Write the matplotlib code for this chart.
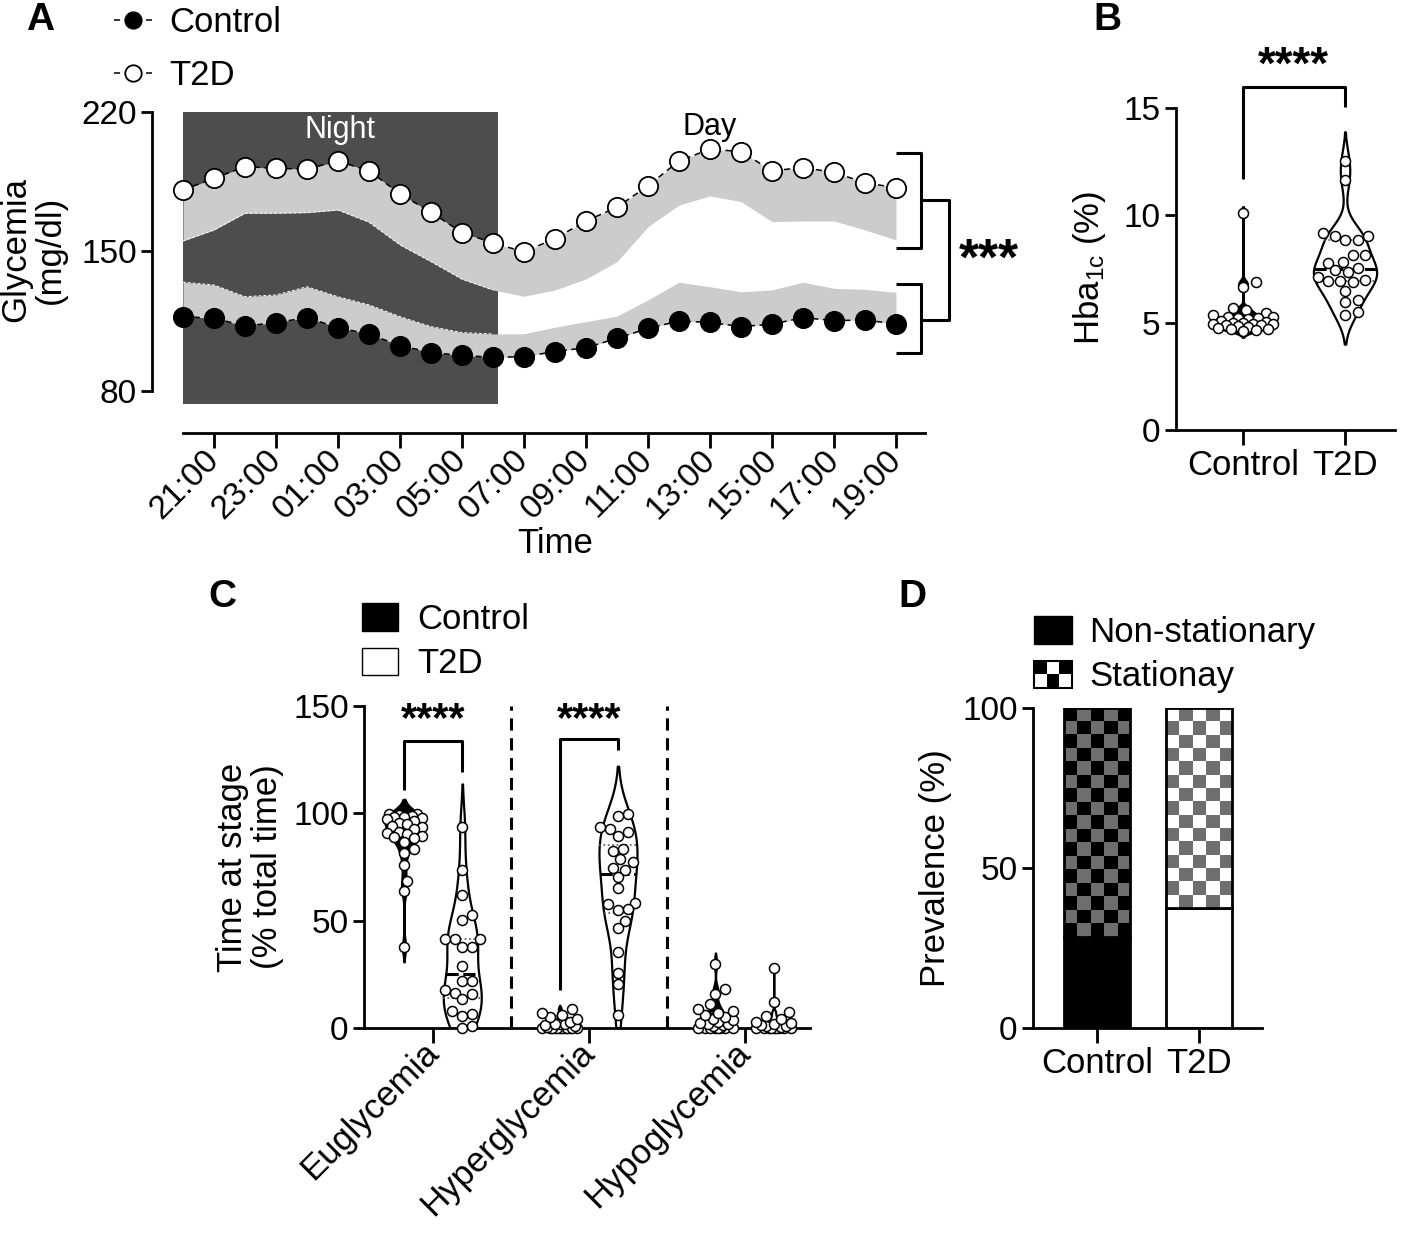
import numpy as np
import matplotlib
matplotlib.use('Agg')
import matplotlib.pyplot as plt
from matplotlib.patches import Rectangle, Patch
from matplotlib.colors import ListedColormap
from matplotlib.legend_handler import HandlerBase

plt.rcParams['font.family'] = ['Liberation Sans', 'DejaVu Sans']
plt.rcParams['mathtext.fontset'] = 'custom'
plt.rcParams['mathtext.rm'] = 'Liberation Sans'
plt.rcParams['mathtext.default'] = 'regular'

# ---------------- data ----------------
# panel A, hourly glycemia (hour 0 = 20:00)
hours = np.arange(24)
time_ticks = [1, 3, 5, 7, 9, 11, 13, 15, 17, 19, 21, 23]
time_labels = ['21:00', '23:00', '01:00', '03:00', '05:00', '07:00',
               '09:00', '11:00', '13:00', '15:00', '17:00', '19:00']
t2d_mean = [180.9, 186.7, 192.6, 191.7, 191.4, 195.4, 190.5, 178.9, 169.7, 159.5, 154.3, 149.8,
            156.5, 165.3, 172.2, 183.0, 195.4, 201.4, 200.1, 190.5, 192.1, 189.7, 184.5, 182.0]
t2d_low = [155.3, 160.8, 169.2, 169.2, 169.5, 170.8, 164.7, 153.3, 144.9, 136.1, 130.7, 127.5,
           130.7, 136.2, 144.9, 162.4, 173.3, 177.9, 175.0, 165.0, 165.3, 165.3, 160.8, 155.8]
ctl_mean = [117.3, 116.5, 112.6, 114.3, 116.8, 111.8, 108.5, 102.8, 99.3, 97.8, 96.9, 97.2,
            99.8, 101.7, 106.4, 111.4, 115.1, 114.4, 112.3, 113.5, 116.8, 115.3, 115.6, 113.6]
ctl_high = [134.6, 133.2, 127.3, 128.2, 132.3, 127.3, 123.2, 117.3, 112.3, 109.3, 108.6, 108.7,
            112.0, 114.8, 117.6, 125.7, 134.6, 132.3, 129.8, 130.7, 134.6, 131.5, 131.0, 129.5]
night_start, night_end = 0.0, 10.15

# panel B, HbA1c (%)
hba1c_ctl = [10.12, 6.88, 6.68, 5.67, 5.59, 5.46, 5.36, 5.25, 5.28, 5.2, 5.2, 5.15, 5.1, 5.05,
             5.0, 5.0, 4.95, 4.95, 4.95, 4.9, 4.9, 4.85, 4.8, 4.75, 4.72, 4.7, 4.65, 4.6]
hba1c_t2d = [12.53, 11.65, 9.05, 8.85, 9.16, 8.85, 9.05, 8.15, 8.15, 7.8, 7.84, 7.53, 7.38, 7.45,
             7.14, 6.99, 6.96, 6.88, 6.96, 6.49, 5.95, 6.06, 5.36, 5.48]
groups = ['Control', 'T2D']

# panel C, time at stage (% total time)
stages = ['Euglycemia', 'Hyperglycemia', 'Hypoglycemia']
eugly_ctl = [99.5, 99.5, 99.0, 98.7, 98.5, 98.1, 97.9, 97.5, 96.5, 95.6, 95.0, 94.0, 93.7, 92.5,
             91.4, 91.0, 90.6, 89.5, 89.0, 88.5, 86.7, 83.6, 81.6, 75.8, 68.5, 63.9, 37.8]
eugly_t2d = [93.7, 73.5, 61.8, 50.5, 52.5, 41.6, 41.6, 41.6, 37.8, 37.8, 28.9, 21.8, 21.8, 17.6,
             15.7, 16.5, 13.4, 6.7, 7.8, 5.4, 0.0, 0.8]
hyper_ctl = [0, 0, 0, 0, 0, 0, 0, 0, 0, 0, 0, 0, 0.5, 1, 1.5, 2, 2, 2, 3, 4, 5, 6, 7, 9]
hyper_t2d = [99.6, 98.7, 92.6, 93.7, 91.4, 89.5, 83.6, 82.5, 78.6, 77.4, 73.5, 74.7, 70.4, 65.4,
             58.0, 57.7, 54.9, 55.6, 49.9, 46.8, 35.4, 25.6, 20.7, 5.9]
hypo_ctl = [0, 0, 0, 0, 0, 0, 0, 0, 1, 1.5, 2, 2, 2.5, 3, 3.5, 4, 5, 6, 7, 8, 9, 11, 16, 18, 30]
hypo_t2d = [0, 0, 0, 0, 0, 0, 0, 0, 0, 0.5, 1, 1, 1.5, 2, 2.5, 3, 4, 5.5, 7.5, 12, 27.8]

# panel D, prevalence (%)
nonstat = [28.3, 37.5]
stat = [100 - v for v in nonstat]

# ---------------- layout helpers ----------------
W, H = 1416, 1237
fig = plt.figure(figsize=(W / 100, H / 100), dpi=100)

def rect(l, t, r, b):
    return [l / W, 1 - b / H, (r - l) / W, (b - t) / H]

def fx(px): return px / W
def fy(py): return 1 - py / H

FS = 25
TK = 24

def style(ax, ybounds=None, xbounds=None):
    for s in ['top', 'right']:
        ax.spines[s].set_visible(False)
    for s in ['left', 'bottom']:
        ax.spines[s].set_linewidth(2.0)
    if ybounds: ax.spines['left'].set_bounds(*ybounds)
    if xbounds: ax.spines['bottom'].set_bounds(*xbounds)
    ax.tick_params(axis='both', width=2.0, length=8, labelsize=TK, pad=3)
    ax.tick_params(axis='x', length=11)
    ax.patch.set_alpha(0)

def violin(ax, xc, vals, half_w, color, lo_clip=None, cut=2.0):
    v = np.asarray(vals, float)
    q1, q3 = np.percentile(v, [25, 75])
    sd = v.std(ddof=1)
    spread = min(sd, (q3 - q1) / 1.34) if q3 > q1 else sd
    bw = 0.9 * spread * len(v) ** -0.2
    lo = v.min() - cut * bw
    if lo_clip is not None: lo = max(lo, lo_clip)
    grid = np.linspace(lo, v.max() + cut * bw, 500)
    dens = np.exp(-0.5 * ((grid[:, None] - v[None, :]) / bw) ** 2).sum(axis=1)
    w = dens / dens.max() * half_w
    ax.fill_betweenx(grid, xc - w, xc + w, facecolor=color, edgecolor='black', lw=1.6, zorder=2)
    med = np.median(v)
    wm = np.interp(med, grid, w)
    ax.plot([xc - wm, xc + wm], [med, med], color='black', lw=2.2, ls=(0, (4, 1.5)), zorder=2.5)
    for q in (q1, q3):
        wq = np.interp(q, grid, w)
        ax.plot([xc - wq, xc + wq], [q, q], color='#555555', lw=1.2, ls=':', zorder=2.5)

def swarm(ax, xc, vals, d, max_w, gap=0.92):
    vals = np.asarray(vals, float)
    pts = ax.transData.transform(np.column_stack([np.full(len(vals), xc), vals]))
    xs = np.zeros(len(vals))
    placed = []
    step = d * 0.25
    for i in np.argsort(vals):
        px, py = pts[i]
        cands = [px]
        k = 1
        while k * step <= max_w:
            cands += [px + k * step, px - k * step]
            k += 1
        best, best_d = px, -1
        for cx in cands:
            md = min([np.hypot(cx - qx, py - qy) for qx, qy in placed] + [1e9])
            if md >= d * gap:
                best = cx
                break
            if md > best_d:
                best, best_d = cx, md
        placed.append((best, py))
        xs[i] = best
    back = ax.transData.inverted().transform(np.column_stack([xs, pts[:, 1]]))
    ax.scatter(back[:, 0], vals, s=52, facecolor='white', edgecolor='black', lw=1.1,
               zorder=4, clip_on=False)

# ---------------- panel A ----------------
axA = fig.add_axes(rect(152, 112, 927, 433))
axA.set_xlim(-1, 24)
axA.set_ylim(58.9, 220)
style(axA, ybounds=(80, 220), xbounds=(0, 23.95))
axA.add_patch(Rectangle((night_start, 73.5), night_end - night_start, 220 - 73.5,
                        facecolor='#4d4d4d', edgecolor='none', zorder=1))
axA.fill_between(hours, t2d_low, t2d_mean, color='#cccccc', lw=0, zorder=2)
axA.fill_between(hours, ctl_mean, ctl_high, color='#cccccc', lw=0, zorder=2)
night = hours <= night_end
axA.plot(hours[night], np.array(t2d_low)[night], color='white', lw=0.7, ls=(0, (3, 2)), zorder=2)
axA.plot(hours[night], np.array(ctl_high)[night], color='white', lw=0.7, ls=(0, (3, 2)), zorder=2)
ln_ctl, = axA.plot(hours, ctl_mean, color='black', lw=1.1, ls=(0, (4, 3)), marker='o', ms=13.9,
                   mfc='black', mec='black', mew=1.3, zorder=3, clip_on=False, label='Control')
ln_t2d, = axA.plot(hours, t2d_mean, color='black', lw=1.1, ls=(0, (4, 3)), marker='o', ms=13.9,
                   mfc='white', mec='black', mew=1.3, zorder=3, clip_on=False, label='T2D')
axA.set_xticks(time_ticks)
axA.set_xticklabels(time_labels, rotation=45, ha='right', va='center', rotation_mode='anchor')
axA.tick_params(axis='x', pad=5)
axA.set_yticks([80, 150, 220])
axA.text((night_start + night_end) / 2, 211, 'Night', color='white', fontsize=22,
         ha='center', va='center', zorder=3)
axA.text(17, 212.5, 'Day', color='black', fontsize=22, ha='center', va='center', zorder=3)
# significance brackets
bk = dict(color='black', lw=2.2, clip_on=False, solid_capstyle='butt')
axA.plot([23.0, 23.8, 23.8, 23.0], [199.4, 199.4, 151.8, 151.8], **bk)
axA.plot([23.0, 23.8, 23.8, 23.0], [133.7, 133.7, 99.1, 99.1], **bk)
axA.plot([23.8, 24.72, 24.72, 23.8], [175.6, 175.6, 115.5, 115.5], **bk)
axA.text(26.0, 145.0, '***', fontsize=37, fontweight='bold', ha='center', va='center')
fig.text(fx(33), fy(250), 'Glycemia\n(mg/dl)', rotation=90, fontsize=FS, ha='center',
         va='center', multialignment='center', linespacing=1.05)
fig.text(fx(555), fy(543), 'Time', fontsize=FS, ha='center', va='center')
fig.legend([ln_ctl, ln_t2d], ['Control', 'T2D'], loc='upper left',
           bbox_to_anchor=(fx(114), fy(6)), frameon=False, fontsize=FS, handlelength=1.1,
           handletextpad=0.5, labelspacing=0.58, borderpad=0, borderaxespad=0, markerscale=0.85)

# ---------------- panel B ----------------
axB = fig.add_axes(rect(1176, 86.5, 1395, 430))
axB.set_xlim(-0.657, 1.49)
axB.set_ylim(0, 16)
style(axB, ybounds=(0, 15))
axB.set_yticks([0, 5, 10, 15])
axB.set_xticks([0, 1])
axB.set_xticklabels(groups, fontsize=FS)
violin(axB, 0, hba1c_ctl, 0.32, 'black')
violin(axB, 1, hba1c_t2d, 0.31, 'white')
swarm(axB, 0, hba1c_ctl, 10, 30, gap=1.15)
swarm(axB, 1, hba1c_t2d, 10, 30, gap=1.05)
axB.plot([0, 0, 1, 1], [11.7, 16.0, 16.0, 15.06], **bk)
axB.text(0.49, 16.9, '****', fontsize=33, fontweight='bold', ha='center', va='center')
fig.text(fx(1090), fy(268), 'Hba$_{1c}$ (%)', rotation=90, fontsize=FS, ha='center', va='center')

# ---------------- panel C ----------------
axC = fig.add_axes(rect(364, 706, 810, 1028))
axC.set_xlim(-0.444, 2.42)
axC.set_ylim(0, 150)
style(axC, ybounds=(0, 150))
axC.set_yticks([0, 50, 100, 150])
axC.set_xticks([0, 1, 2])
axC.set_xticklabels(stages, rotation=45, ha='right', va='center', rotation_mode='anchor',
                    fontsize=FS)
off = 0.187
stage_data = [(eugly_ctl, eugly_t2d), (hyper_ctl, hyper_t2d), (hypo_ctl, hypo_t2d)]
for g, (c_vals, t_vals) in enumerate(stage_data):
    violin(axC, g - off, c_vals, 0.122, 'black', lo_clip=0)
    violin(axC, g + off, t_vals, 0.122, 'white', lo_clip=0)
    swarm(axC, g - off, c_vals, 10, 18, gap=1.0)
    swarm(axC, g + off, t_vals, 10, 18, gap=1.0)
for xs in (0.5, 1.5):
    axC.plot([xs, xs], [0, 150], color='black', lw=2.2, ls=(0, (4, 2.5)), zorder=1)
axC.plot([-off, -off, off, off], [110.8, 133.7, 133.7, 119.3], **bk)
axC.plot([1 - off, 1 - off, 1 + off, 1 + off], [17.6, 134.6, 134.6, 129.4], **bk)
axC.text(0, 143.5, '****', fontsize=30, fontweight='bold', ha='center', va='center')
axC.text(1, 143.5, '****', fontsize=30, fontweight='bold', ha='center', va='center')
fig.text(fx(250), fy(867), 'Time at stage\n(% total time)', rotation=90, fontsize=FS,
         ha='center', va='center', multialignment='center', linespacing=1.05)
fig.legend([Patch(facecolor='black', edgecolor='black'), Patch(facecolor='white', edgecolor='black')],
           groups, loc='upper left', bbox_to_anchor=(fx(362), fy(603)), frameon=False,
           fontsize=FS, handlelength=1.05, handleheight=0.85, handletextpad=0.55,
           labelspacing=0.33, borderpad=0, borderaxespad=0)

# ---------------- panel D ----------------
axD = fig.add_axes(rect(1033, 708, 1262, 1028))
axD.set_xlim(-0.627, 1.62)
axD.set_ylim(0, 100)
style(axD, ybounds=(0, 100))
axD.set_yticks([0, 50, 100])
axD.set_xticks([0, 1])
axD.set_xticklabels(groups, fontsize=FS)
bar_w = 0.65
base_cols = ['black', 'white']
sq_x = bar_w / 5
p0 = axD.transData.transform((0, 0))
p1 = axD.transData.transform((sq_x, 1))
sq_y = (p1[0] - p0[0]) / (p1[1] - p0[1])
for i in range(2):
    axD.bar(i, nonstat[i], width=bar_w, color=base_cols[i], edgecolor='black', lw=2, zorder=2)
    top = axD.bar(i, stat[i], bottom=nonstat[i], width=bar_w, color='none',
                  edgecolor='black', lw=2, zorder=3)[0]
    ny = max(1, int(round(stat[i] / sq_y)))
    board = np.indices((ny, 5)).sum(axis=0) % 2
    im = axD.imshow(board, cmap=ListedColormap([base_cols[i], '#6e6e6e']),
                    extent=(i - bar_w / 2, i + bar_w / 2, nonstat[i], 100),
                    aspect='auto', interpolation='nearest', zorder=2)
    im.set_clip_path(top)
axD.set_xlim(-0.627, 1.62)
axD.set_ylim(0, 100)
fig.text(fx(935), fy(868), 'Prevalence (%)', rotation=90, fontsize=FS, ha='center', va='center')

class CheckerHandler(HandlerBase):
    def create_artists(self, legend, orig_handle, xdescent, ydescent, width, height, fontsize, trans):
        arts = []
        cw, ch = width / 3, height / 2
        for r in range(2):
            for c in range(3):
                col = 'black' if (r + c) % 2 == 0 else 'white'
                arts.append(Rectangle((-xdescent + c * cw, -ydescent + (1 - r) * ch), cw, ch,
                                      facecolor=col, edgecolor='none', transform=trans))
        arts.append(Rectangle((-xdescent, -ydescent), width, height, facecolor='none',
                              edgecolor='black', lw=1.5, transform=trans))
        return arts

checker_handle = Patch(facecolor='white')
fig.legend([Patch(facecolor='black', edgecolor='black'), checker_handle],
           ['Non-stationary', 'Stationay'], loc='upper left', bbox_to_anchor=(fx(1034), fy(616)),
           frameon=False, fontsize=FS, handlelength=1.1, handleheight=0.85, handletextpad=0.5,
           labelspacing=0.33, borderpad=0, borderaxespad=0,
           handler_map={checker_handle: CheckerHandler()})

# panel letters
for lab, px, py in [('A', 40, 20), ('B', 1107, 20), ('C', 222, 597), ('D', 912, 597)]:
    fig.text(fx(px), fy(py), lab, fontsize=28, fontweight='bold', ha='center', va='center')

fig.savefig('out.png', dpi=100)
